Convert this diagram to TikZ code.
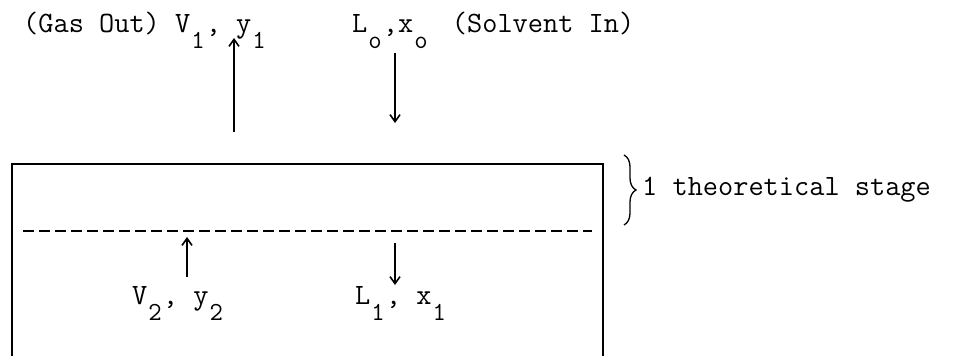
\documentclass[tikz,border=0pt]{standalone}
\usepackage{fontspec}
\usetikzlibrary{arrows.meta,decorations.pathreplacing}
\newcommand\sbs[1]{\raisebox{-16pt}{\makebox[0.525em][c]{\fontsize{26pt}{26pt}\selectfont #1}}}
\tikzset{
  lbl/.style={anchor=base west, inner sep=0pt, font=\ttfamily\fontsize{29.5pt}{30pt}\selectfont},
  flow/.style={line width=1.6pt, -{Straight Barb[length=7pt,width=10pt]}},
  wall/.style={line width=2pt},
  tray/.style={line width=2.5pt, dash pattern=on 11pt off 5pt},
}
\begin{document}
\begin{tikzpicture}[x=1pt,y=-1pt]
\useasboundingbox (0,0) rectangle (977,356);
% column walls (open at bottom)
\coordinate (bl) at (12,356);
\coordinate (tl) at (12,164);
\coordinate (tr) at (603,164);
\coordinate (br) at (603,356);
\draw[wall] (bl) -- (tl) -- (tr) -- (br);
% tray (dashed)
\coordinate (dl) at (23,231);
\coordinate (dr) at (592,231);
\draw[tray] (dl) -- (dr);
% labels
\node[lbl] (gasout) at (23,32) {(Gas Out) V\sbs{1}, y\sbs{1}};
\node[lbl] (solvin) at (352,32) {L\sbs{o},x\sbs{o}\hspace{8pt} (Solvent In)};
\node[lbl] (v2) at (132,304) {V\sbs{2}, y\sbs{2}};
\node[lbl] (l1) at (355,304) {L\sbs{1}, x\sbs{1}};
\node[lbl] (stage) at (642,195) {1 theoretical stage};
% flow arrows
\coordinate (u1a) at (234,132);
\coordinate (u1b) at (234,38);
\coordinate (d1a) at (395,53);
\coordinate (d1b) at (395,123);
\coordinate (u2a) at (187,277);
\coordinate (u2b) at (187,237);
\coordinate (d2a) at (395,243);
\coordinate (d2b) at (395,285);
\draw[flow] (u1a) -- (u1b);
\draw[flow] (d1a) -- (d1b);
\draw[flow] (u2a) -- (u2b);
\draw[flow] (d2a) -- (d2b);
% brace
\coordinate (bt) at (624,155);
\coordinate (bb) at (624,225);
\draw[line width=1.3pt, decorate, decoration={brace, amplitude=12pt}] (bt) -- (bb);
\end{tikzpicture}
\end{document}
